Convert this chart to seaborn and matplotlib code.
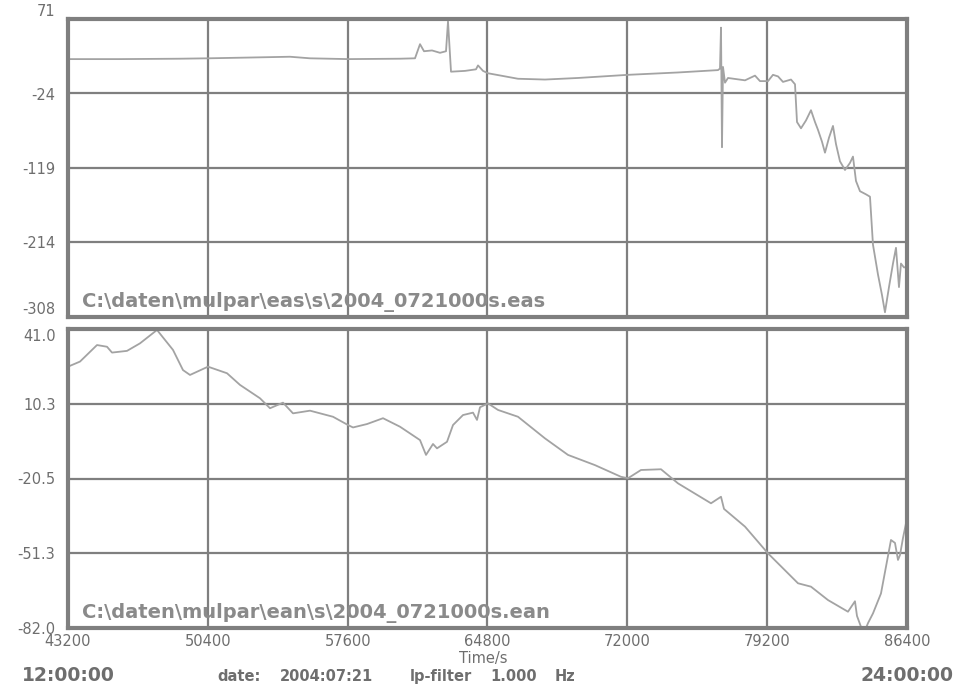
import numpy as np
import pandas as pd
import matplotlib
matplotlib.use("Agg")
import matplotlib.pyplot as plt
import seaborn as sns

# Channel 1 (eas) — time in seconds of day, value in channel units
t_eas = [43200, 45877, 48967, 50409, 52571, 54631, 55661, 57617, 60295, 61067,
         61325, 61531, 61943, 62355, 62664, 62766, 62921, 63642, 64208, 64311,
         64569, 64826, 66370, 67761, 69460, 72034, 74609, 76668, 76771, 76823,
         76874, 76926, 77029, 77183, 78059, 78574, 78831, 79243, 79500, 79758,
         80015, 80427, 80633, 80736, 80942, 81199, 81456, 81662, 81817, 82022,
         82177, 82383, 82589, 82743, 82949, 83207, 83464, 83618, 83773, 83979,
         84288, 84494, 84648, 84906, 85112, 85266, 85472, 85678, 85833, 85987,
         86090, 86245, 86400]
v_eas = [20, 20, 20.5, 21, 22, 23, 21, 20, 20.5, 21,
         39, 30, 31, 28, 30, 68, 4, 5, 7, 12,
         5, 2, -5, -6, -4, 0, 3, 6, 8, 60,
         -92, 10, -10, -4, -7, -1, -8, -8, 0, -2,
         -9, -6, -12, -60, -68, -58, -45, -60, -70, -85,
         -99, -80, -65, -88, -110, -121, -112, -104, -135, -148,
         -152, -155, -216, -254, -280, -302, -270, -240, -220, -270,
         -240, -245, -244]

# Channel 2 (ean)
t_ean = [43200, 43818, 44693, 45208, 45466, 46238, 46907, 47783, 48606, 49121,
         49482, 50409, 51387, 52056, 53086, 53601, 54270, 54785, 55661, 56845,
         57617, 57875, 58596, 59420, 60295, 61325, 61634, 61994, 62200, 62715,
         63024, 63539, 64054, 64260, 64414, 64826, 65341, 66370, 67761, 68945,
         70335, 71674, 72034, 72703, 73733, 74609, 76308, 76823, 76977, 78059,
         79243, 80788, 81456, 82331, 83361, 83721, 83824, 84030, 84288, 84391,
         84648, 85060, 85575, 85781, 85936, 86039, 86193, 86400]
v_ean = [25.5, 27.6, 34.4, 33.7, 31.3, 32.0, 35.1, 40.6, 32.4, 24.1,
         22.1, 25.5, 22.8, 18.0, 12.5, 8.4, 10.7, 6.3, 7.4, 4.9,
         1.5, 0.5, 1.9, 4.3, 0.8, -4.7, -10.8, -6.3, -8.1, -5.4,
         1.5, 5.6, 6.6, 3.6, 8.8, 10.4, 7.7, 4.9, -4.0, -10.8,
         -15.0, -19.8, -20.4, -17.0, -16.7, -22.5, -30.7, -28.0, -33.0, -40.3,
         -51.3, -63.6, -65.0, -70.5, -75.3, -71.0, -77.0, -81.5, -82.0, -80.0,
         -76.0, -67.8, -45.8, -47.0, -54.0, -52.0, -45.0, -36.9]

x_ticks = [43200, 50400, 57600, 64800, 72000, 79200, 86400]
x_labels = ["43200", "50400", "57600", "64800", "72000", "79200", "86400"]
y_eas_ticks = [71, -23.75, -118.5, -213.25, -308]
y_eas_labels = ["71", "-24", "-119", "-214", "-308"]
y_ean_ticks = [41.0, 10.25, -20.5, -51.25, -82.0]
y_ean_labels = ["41.0", "10.3", "-20.5", "-51.3", "-82.0"]

file_eas = r"C:\daten\mulpar\eas\s\2004_0721000s.eas"
file_ean = r"C:\daten\mulpar\ean\s\2004_0721000s.ean"

sns.set_theme(style="white")
plt.rcParams["font.family"] = ["DejaVu Sans"]

W, H = 958, 686
fig = plt.figure(figsize=(W / 100, H / 100), dpi=100)
fig.patch.set_facecolor("white")

FRAME = "#7f7f7f"
TRACE = "#a3a3a3"
TXT = "#6e6e6e"


def px_axes(x0, y0, x1, y1):
    return fig.add_axes([x0 / W, 1 - y1 / H, (x1 - x0) / W, (y1 - y0) / H])


ax1 = px_axes(68, 19, 907, 317)
ax2 = px_axes(68, 329, 907, 628)

df1 = pd.DataFrame({"t": t_eas, "v": v_eas})
df2 = pd.DataFrame({"t": t_ean, "v": v_ean})

for ax, df, yt, yl, fname in [
    (ax1, df1, y_eas_ticks, y_eas_labels, file_eas),
    (ax2, df2, y_ean_ticks, y_ean_labels, file_ean),
]:
    sns.lineplot(data=df, x="t", y="v", ax=ax, color=TRACE, linewidth=1.3,
                 estimator=None, sort=False)
    ax.set_xlim(43200, 86400)
    ax.set_ylim(yt[-1], yt[0])
    ax.set_xticks(x_ticks)
    ax.set_yticks(yt)
    ax.set_yticklabels(yl)
    ax.set_xlabel("")
    ax.set_ylabel("")
    ax.grid(True, color=FRAME, linewidth=1.6)
    ax.set_axisbelow(True)
    for s in ax.spines.values():
        s.set_visible(True)
        s.set_color(FRAME)
        s.set_linewidth(3)
    ax.tick_params(axis="both", length=0, labelsize=10.5, labelcolor=TXT, pad=9)
    ax.text(0.0167, 0.035, fname, transform=ax.transAxes, fontsize=14,
            fontweight="heavy", color="#8a8a8a", ha="left", va="baseline")

# keep the two labels at the shared panel boundary apart
ax1.get_yticklabels()[0].set_va("bottom")
ax1.get_yticklabels()[-1].set_va("bottom")
ax2.get_yticklabels()[0].set_va("top")

ax1.set_xticklabels([])
ax2.set_xticklabels(x_labels)
ax2.tick_params(axis="x", pad=4)

# footer annotations
fig.text(483 / W, 1 - 663 / H, "Time/s", fontsize=10.5, color=TXT, ha="center", va="baseline")
fig.text(22 / W, 1 - 681 / H, "12:00:00", fontsize=13.5, fontweight="heavy", color=TXT,
         ha="left", va="baseline")
fig.text(953 / W, 1 - 681 / H, "24:00:00", fontsize=13.5, fontweight="heavy", color=TXT,
         ha="right", va="baseline")
for x0, s in [(217, "date:"), (280, "2004:07:21"), (410, "lp-filter"),
              (490, "1.000"), (555, "Hz")]:
    fig.text(x0 / W, 1 - 681 / H, s, fontsize=10.5, fontweight="bold", color=TXT,
             ha="left", va="baseline")

fig.savefig("out.png", dpi=100, facecolor="white")
